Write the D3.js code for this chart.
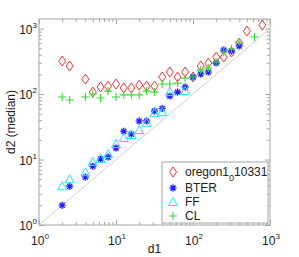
<!DOCTYPE html>
<html>
<head>
<meta charset="utf-8">
<script src="https://cdn.jsdelivr.net/npm/d3@7"></script>
<style>
  body { margin: 0; background: #fff; }
  svg { display: block; font-family: "Liberation Sans", Arial, sans-serif; }
</style>
</head>
<body>
<div id="chart"></div>
<script>
// Degrés d1 (bins log) et médianes d2
const xRed   = [2, 2.5, 4, 5, 6.3, 7.9, 10, 12.6, 15.8, 20, 25, 31.6, 39.8, 50, 63, 79, 100, 126, 158, 200, 251, 316, 398, 501, 794]
const yRed   = [319, 268, 169, 107, 128, 132, 142, 124, 124, 137, 132, 132, 182, 217, 182, 217, 182, 268, 297, 367, 367, 438, 601, 916, 1130]

const xBlue  = [2, 2.5, 4, 5, 6.3, 7.9, 10, 12.6, 15.8, 20, 25, 31.6, 39.8, 50, 63, 79, 100, 126, 158, 200, 251, 316, 398]
const yBlue  = [2, 3.9, 5.4, 7.9, 10.2, 10.9, 15, 27, 24.5, 38.7, 38.7, 55, 60, 93, 107, 128, 182, 202, 217, 297, 470, 453, 541]

const xCyan  = [2, 2.5, 4, 5, 6.3, 7.9, 10, 12.6, 15.8, 20, 25, 31.6, 39.8, 50, 79]
const yCyan  = [3.9, 5.0, 6.4, 9.2, 10.2, 12.1, 17.2, 21.3, 23.7, 28.2, 36, 51, 53, 107, 111]

const xGreen = [2, 2.5, 4, 5, 6.3, 7.9, 10, 12.6, 15.8, 20, 25, 31.6, 39.8, 50, 63, 79, 100, 126, 158, 200, 251, 316, 398, 631]
const yGreen = [90, 81, 90, 100, 87, 111, 90, 97, 97, 97, 111, 107, 142, 142, 147, 175, 182, 232, 249, 308, 438, 487, 622, 742]

const legendLabels = ["oregon1", "BTER", "FF", "CL"]
const majorTicks = [1, 10, 100, 1000]

const W = 299, H = 257
const svg = d3.select("#chart").append("svg").attr("width", W).attr("height", H)

const x = d3.scaleLog().domain([1, 1000]).range([39, 270])
const y = d3.scaleLog().domain([1, 1400]).range([225, 19])
const [x0, x1] = x.range(), [y0, y1] = y.range()

const axisColor = "#a6a6a6"
const minorX = [], minorY = []
for (const p of [1, 10, 100]) for (let k = 2; k <= 9; k++) { minorX.push(k * p); minorY.push(k * p) }

// --- Ticks vers l'intérieur sur les 4 côtés (box on) ---
function ticks(axis, tr, vals, size) {
  svg.append("g").attr("transform", tr)
    .call(axis.tickValues(vals).tickSize(size).tickFormat(""))
    .call(s => s.select(".domain").remove())
    .attr("color", axisColor)
}
ticks(d3.axisBottom(x), `translate(0,${y0})`, majorTicks, -5)
ticks(d3.axisBottom(x), `translate(0,${y0})`, minorX, -3)
ticks(d3.axisTop(x), `translate(0,${y1})`, majorTicks, -5)
ticks(d3.axisTop(x), `translate(0,${y1})`, minorX, -3)
ticks(d3.axisLeft(y), `translate(${x0},0)`, majorTicks, -5)
ticks(d3.axisLeft(y), `translate(${x0},0)`, minorY, -3)
ticks(d3.axisRight(y), `translate(${x1},0)`, majorTicks, -5)
ticks(d3.axisRight(y), `translate(${x1},0)`, minorY, -3)

svg.append("rect")
  .attr("x", x0).attr("y", y1).attr("width", x1 - x0).attr("height", y0 - y1)
  .attr("fill", "none").attr("stroke", axisColor).attr("stroke-width", 1)

// Labels "10^k"
function powLabel(px, py, k, anchor) {
  const t = svg.append("text").attr("x", px).attr("y", py)
    .attr("text-anchor", anchor).attr("font-size", 12).attr("fill", "#222")
  t.append("tspan").text("10")
  t.append("tspan").attr("font-size", 8).attr("dy", -6).text(k)
}
majorTicks.forEach((v, i) => {
  powLabel(x(v) + 1, 245, i, "middle")
  powLabel(37, y(v) + 5, i, "end")
})

svg.append("text")
  .attr("x", (x0 + x1) / 2).attr("y", 253)
  .attr("text-anchor", "middle").attr("font-size", 12).attr("fill", "#222")
  .text("d1")
svg.append("text")
  .attr("transform", "rotate(-90)")
  .attr("x", -(y0 + y1) / 2).attr("y", 15)
  .attr("text-anchor", "middle").attr("font-size", 12).attr("fill", "#222")
  .text("d2 (median)")

// Diagonale y = x
svg.append("line")
  .attr("x1", x(1)).attr("y1", y(1)).attr("x2", x(1000)).attr("y2", y(1000))
  .attr("stroke", "#cfcfcf").attr("stroke-width", 1)

// --- Marqueurs ---
const markers = {
  diamond: (g, c) => g.append("path").attr("d", "M0,-5L3.5,0L0,5L-3.5,0Z")
    .attr("fill", "none").attr("stroke", c).attr("stroke-width", 1),
  star: (g, c) => {
    const d = "M-3.5,0H3.5M0,-3.5V3.5M-2.5,-2.5L2.5,2.5M-2.5,2.5L2.5,-2.5"
    g.append("path").attr("d", d).attr("stroke", "#9a9aff").attr("stroke-width", 2.6).attr("opacity", 0.6)
    g.append("path").attr("d", d).attr("stroke", c).attr("stroke-width", 1.1)
  },
  triangle: (g, c) => g.append("path").attr("d", "M0,-4.5L4.5,3.5L-4.5,3.5Z")
    .attr("fill", "none").attr("stroke", c).attr("stroke-width", 1),
  plus: (g, c) => g.append("path").attr("d", "M-4,0H4M0,-4V4")
    .attr("stroke", c).attr("stroke-width", 1.1),
}

const series = [
  { xs: xRed, ys: yRed, m: "diamond", c: "#ff3030" },
  { xs: xBlue, ys: yBlue, m: "star", c: "#1a1aff" },
  { xs: xCyan, ys: yCyan, m: "triangle", c: "#22e8f0" },
  { xs: xGreen, ys: yGreen, m: "plus", c: "#33dd33" },
]

series.forEach(s => {
  s.xs.forEach((v, i) => {
    const g = svg.append("g").attr("transform", `translate(${x(v)},${y(s.ys[i])})`)
    markers[s.m](g, s.c)
  })
})

// --- Légende ---
const leg = svg.append("g")
leg.append("rect").attr("x", 162).attr("y", 162).attr("width", 106).attr("height", 61)
  .attr("fill", "#fff").attr("stroke", axisColor)
const rowsY = [172, 188, 202, 216]
series.forEach((s, i) => {
  const g = leg.append("g").attr("transform", `translate(173,${rowsY[i]})`)
  markers[s.m](g, s.c)
  const t = leg.append("text").attr("x", 185).attr("y", rowsY[i] + 4)
    .attr("font-size", 12).attr("fill", "#222")
  t.append("tspan").text(legendLabels[i])
  if (i === 0) {
    t.append("tspan").attr("font-size", 9).attr("dy", 5).text("0")
    t.append("tspan").attr("dy", -5).text("10331")
  }
})
</script>
</body>
</html>
